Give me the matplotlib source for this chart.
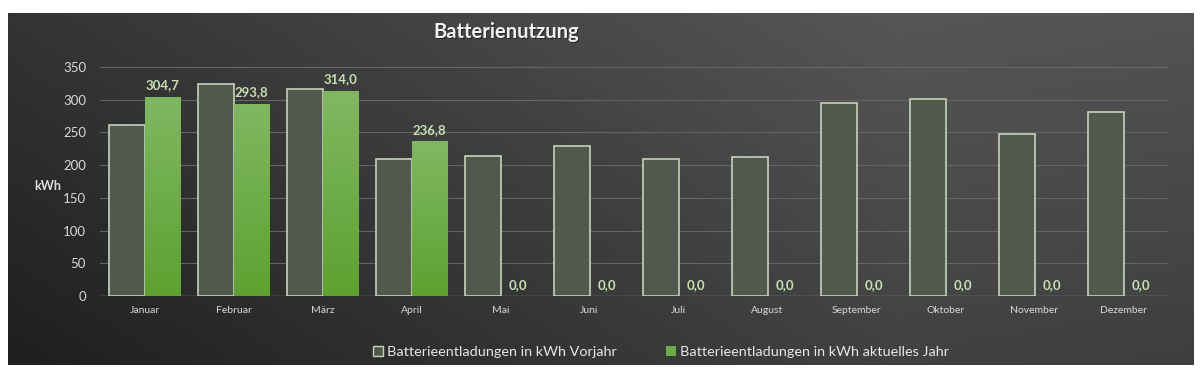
import numpy as np
import matplotlib
matplotlib.use("Agg")
import matplotlib.pyplot as plt
from matplotlib.patches import Patch
from matplotlib.colors import LinearSegmentedColormap

plt.rcParams['font.family'] = ['Lato', 'DejaVu Sans']

monate = ['Januar', 'Februar', 'März', 'April', 'Mai', 'Juni', 'Juli',
          'August', 'September', 'Oktober', 'November', 'Dezember']
vorjahr = [261, 324, 317, 209, 214, 229, 210, 213, 295, 301, 248, 281]
aktuell = [304.7, 293.8, 314.0, 236.8, 0, 0, 0, 0, 0, 0, 0, 0]
yticks = [0, 50, 100, 150, 200, 250, 300, 350]

W, H = 1201, 373
fig = plt.figure(figsize=(W / 100, H / 100), dpi=100)
fig.patch.set_facecolor('white')

# dunkler Hintergrund mit Verlauf
bg = fig.add_axes([8 / W, 1 - 365 / H, (1194 - 8) / W, (365 - 13) / H])
xx, yy = np.meshgrid(np.linspace(0, 1, 300), np.linspace(0, 1, 100))
grad = np.clip(0.15 + 0.55 * xx + 0.25 * (1 - yy) - 0.35 * np.clip(xx - 0.75, 0, 1) * 2.0, 0, 1)
bg_cmap = LinearSegmentedColormap.from_list('bg', ['#1f1f1f', '#565656'])
bg.imshow(grad, cmap=bg_cmap, aspect='auto', extent=[0, 1, 0, 1], origin='upper')
bg.set_xlim(0, 1)
bg.set_ylim(0, 1)
bg.axis('off')

ax = fig.add_axes([100 / W, 1 - 296 / H, (1168 - 100) / W, (296 - 67) / H * 370 / 350])
ax.set_facecolor('none')
for s in ax.spines.values():
    s.set_visible(False)
ax.axhline(0, color='#8a8a8a', lw=1, zorder=1)
for t in yticks[1:]:
    ax.axhline(t, color='#646464', lw=0.8, zorder=0)

x = np.arange(len(monate))
bw = 0.4
green_cmap = LinearSegmentedColormap.from_list('gr', ['#5ea131', '#80b862'])
g = np.linspace(0, 1, 100).reshape(-1, 1)

ax.bar(x - bw / 2, vorjahr, bw, color='#53584e', edgecolor='#c5d3b8', lw=1.2, zorder=2)
bars = ax.bar(x + bw / 2, aktuell, bw, color='#6aac47', lw=0, zorder=2)
for b in bars:
    if b.get_height() > 0:
        im = ax.imshow(g, cmap=green_cmap, aspect='auto', origin='lower', zorder=3,
                       extent=[b.get_x(), b.get_x() + b.get_width(), 0, b.get_height()])
        im.set_clip_path(b)
ax.set_xlim(-0.5, 11.5)
ax.set_ylim(0, 370)

for xi, v in zip(x, aktuell):
    ax.text(xi + bw / 2, v + 8, f'{v:.1f}'.replace('.', ','), ha='center', va='bottom',
            color='#c6e0b4', fontsize=9.5, fontweight='bold', zorder=4)

ax.set_xticks(x)
ax.set_xticklabels(monate, fontsize=7.5, color='#d9d9d9')
ax.set_yticks(yticks)
ax.set_yticklabels([str(t) for t in yticks], fontsize=9.5, color='#d9d9d9')
ax.tick_params(axis='both', length=0)
ax.tick_params(axis='x', pad=7)
ax.tick_params(axis='y', pad=10)

fig.text(48 / W, 1 - 186 / H, 'kWh', fontsize=9, fontweight='bold', color='#e0e0e0',
         ha='center', va='center')
titel = 'Batterienutzung'
fig.text(506 / W + 0.001, 1 - 32 / H - 0.004, titel, fontsize=14.5, fontweight='bold',
         color='#111111', ha='center', va='center', alpha=0.6)
fig.text(506 / W, 1 - 32 / H, titel, fontsize=14.5, fontweight='bold',
         color='#f2f2f2', ha='center', va='center')

handles = [Patch(facecolor='#53584e', edgecolor='#c5d3b8', lw=1),
           Patch(facecolor='#6aac47', edgecolor='none')]
leg = fig.legend(handles, ['Batterieentladungen in kWh Vorjahr',
                           'Batterieentladungen in kWh aktuelles Jahr'],
                 loc='center', bbox_to_anchor=(661 / W, 1 - 352 / H), ncol=2, frameon=False,
                 fontsize=10.4, handlelength=0.7, handleheight=0.7, handletextpad=0.3,
                 columnspacing=3.4)
for t in leg.get_texts():
    t.set_color('#e6e6e6')

fig.savefig('out.png', dpi=100, facecolor='white')
